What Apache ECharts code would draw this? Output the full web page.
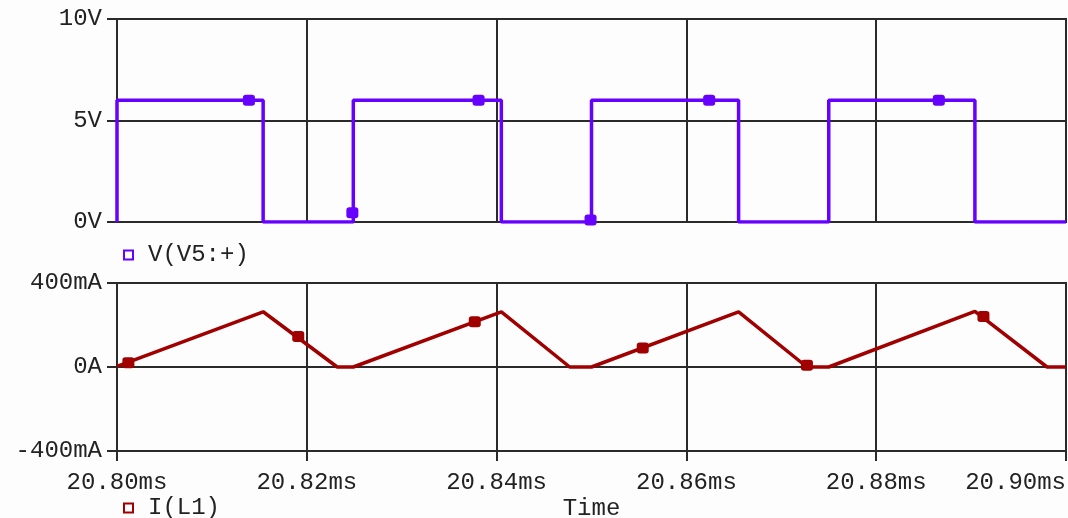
<!DOCTYPE html>
<html><head><meta charset="utf-8">
<script src="https://cdn.jsdelivr.net/npm/echarts@6/dist/echarts.min.js"></script>
<style>html,body{margin:0;padding:0;background:#fdfdfd}#c{width:1068px;height:518px}</style>
</head><body><div id="c"></div>
<script>
// time in microseconds
const xTicks = [20800, 20820, 20840, 20860, 20880, 20900];
const vTime  = [20800,20800,20815.4,20815.4,20824.9,20824.9,20840.5,20840.5,20850.0,20850.0,20865.5,20865.5,20875.0,20875.0,20890.4,20890.4,20900];
const vVal   = [0,6,6,0,0,6,6,0,0,6,6,0,0,6,6,0,0];
const vMarkT = [20813.9, 20824.8, 20838.1, 20849.9, 20862.4, 20886.6];
const vMarkV = [6, 0.45, 6, 0.1, 6, 6];
const iTime  = [20800, 20815.4, 20823.2, 20824.9, 20840.5, 20847.7, 20850.0, 20865.5, 20872.7, 20875.0, 20890.4, 20898.0, 20900];
const iVal   = [3, 263, 0, 0, 263, 0, 0, 263, 0, 0, 265, 0, 0];
const iMarkT = [20801.2, 20819.1, 20837.7, 20855.4, 20872.7, 20891.3];
const iMarkV = [20, 145, 216, 90, 8, 240];
const vTicks = [0, 5, 10];
const iTicks = [-400, 0, 400];

const zip = (a, b) => a.map((t, k) => [t, b[k]]);
const FONT = 'Liberation Mono';
const txt = {fontFamily: FONT, fontSize: 24, color: '#222'};
const VCOL = '#6600ff', ICOL = '#a00000', GCOL = '#2a2a2a';

const chart = echarts.init(document.getElementById('c'), null, {renderer: 'canvas'});
chart.setOption({
  backgroundColor: '#fdfdfd',
  animation: false,
  grid: [
    {left: 117, right: 2, top: 19, height: 203, show: true, borderColor: GCOL, borderWidth: 2, backgroundColor: 'transparent', containLabel: false, outerBoundsMode: 'none'},
    {left: 117, right: 2, top: 283, height: 168, show: true, borderColor: GCOL, borderWidth: 2, backgroundColor: 'transparent', containLabel: false, outerBoundsMode: 'none'}
  ],
  xAxis: [
    {type: 'value', gridIndex: 0, min: xTicks[0], max: xTicks[xTicks.length-1], interval: 20,
     axisLine: {show: true, lineStyle: {color: GCOL, width: 2}}, axisTick: {show: false}, axisLabel: {show: false},
     splitLine: {show: true, lineStyle: {color: GCOL, width: 2}}},
    {type: 'value', gridIndex: 1, min: xTicks[0], max: xTicks[xTicks.length-1], interval: 20,
     name: 'Time', nameLocation: 'middle', nameGap: 46, nameTextStyle: txt,
     axisLine: {show: true, onZero: false, lineStyle: {color: GCOL, width: 2}},
     axisTick: {show: true, length: 10, lineStyle: {color: GCOL, width: 2}},
     axisLabel: Object.assign({margin: 20, showMinLabel: true, showMaxLabel: true, alignMaxLabel: 'right', hideOverlap: false,
       formatter: v => (v/1000).toFixed(2) + 'ms'}, txt),
     splitLine: {show: true, lineStyle: {color: GCOL, width: 2}}}
  ],
  yAxis: [
    {type: 'value', gridIndex: 0, min: vTicks[0], max: vTicks[2], interval: 5,
     axisLine: {show: true, lineStyle: {color: GCOL, width: 2}},
     axisTick: {show: true, length: 10, lineStyle: {color: GCOL, width: 2}},
     axisLabel: Object.assign({margin: 15, formatter: v => v + 'V'}, txt),
     splitLine: {show: true, lineStyle: {color: GCOL, width: 2}}},
    {type: 'value', gridIndex: 1, min: iTicks[0], max: iTicks[2], interval: 400,
     axisLine: {show: true, onZero: false, lineStyle: {color: GCOL, width: 2}},
     axisTick: {show: true, length: 10, lineStyle: {color: GCOL, width: 2}},
     axisLabel: Object.assign({margin: 15, formatter: v => v === 0 ? '0A' : v + 'mA'}, txt),
     splitLine: {show: true, lineStyle: {color: GCOL, width: 2}}}
  ],
  legend: [
    {data: ['V(V5:+)'], left: 118, top: 238, itemWidth: 9, itemHeight: 9, itemGap: 10,
     icon: 'rect', itemStyle: {color: '#fff', borderColor: VCOL, borderWidth: 2},
     textStyle: Object.assign({padding: [0, 0, 0, 10]}, txt), selectedMode: false},
    {data: ['I(L1)'], left: 118, top: 491, itemWidth: 9, itemHeight: 9, itemGap: 10,
     icon: 'rect', itemStyle: {color: '#fff', borderColor: ICOL, borderWidth: 2},
     textStyle: Object.assign({padding: [0, 0, 0, 10]}, txt), selectedMode: false}
  ],
  series: [
    {name: 'V(V5:+)', type: 'line', xAxisIndex: 0, yAxisIndex: 0, data: zip(vTime, vVal),
     showSymbol: false, symbol: 'none', lineStyle: {color: VCOL, width: 3.5}, itemStyle: {color: VCOL}},
    {name: 'vmark', type: 'scatter', xAxisIndex: 0, yAxisIndex: 0, data: zip(vMarkT, vMarkV),
     symbol: 'roundRect', symbolSize: [12, 11], itemStyle: {color: VCOL, opacity: 1}},
    {name: 'I(L1)', type: 'line', xAxisIndex: 1, yAxisIndex: 1, data: zip(iTime, iVal),
     showSymbol: false, symbol: 'none', lineStyle: {color: ICOL, width: 3.5}, itemStyle: {color: ICOL}},
    {name: 'imark', type: 'scatter', xAxisIndex: 1, yAxisIndex: 1, data: zip(iMarkT, iMarkV),
     symbol: 'roundRect', symbolSize: [12, 11], itemStyle: {color: ICOL, opacity: 1}}
  ]
});
</script></body></html>
